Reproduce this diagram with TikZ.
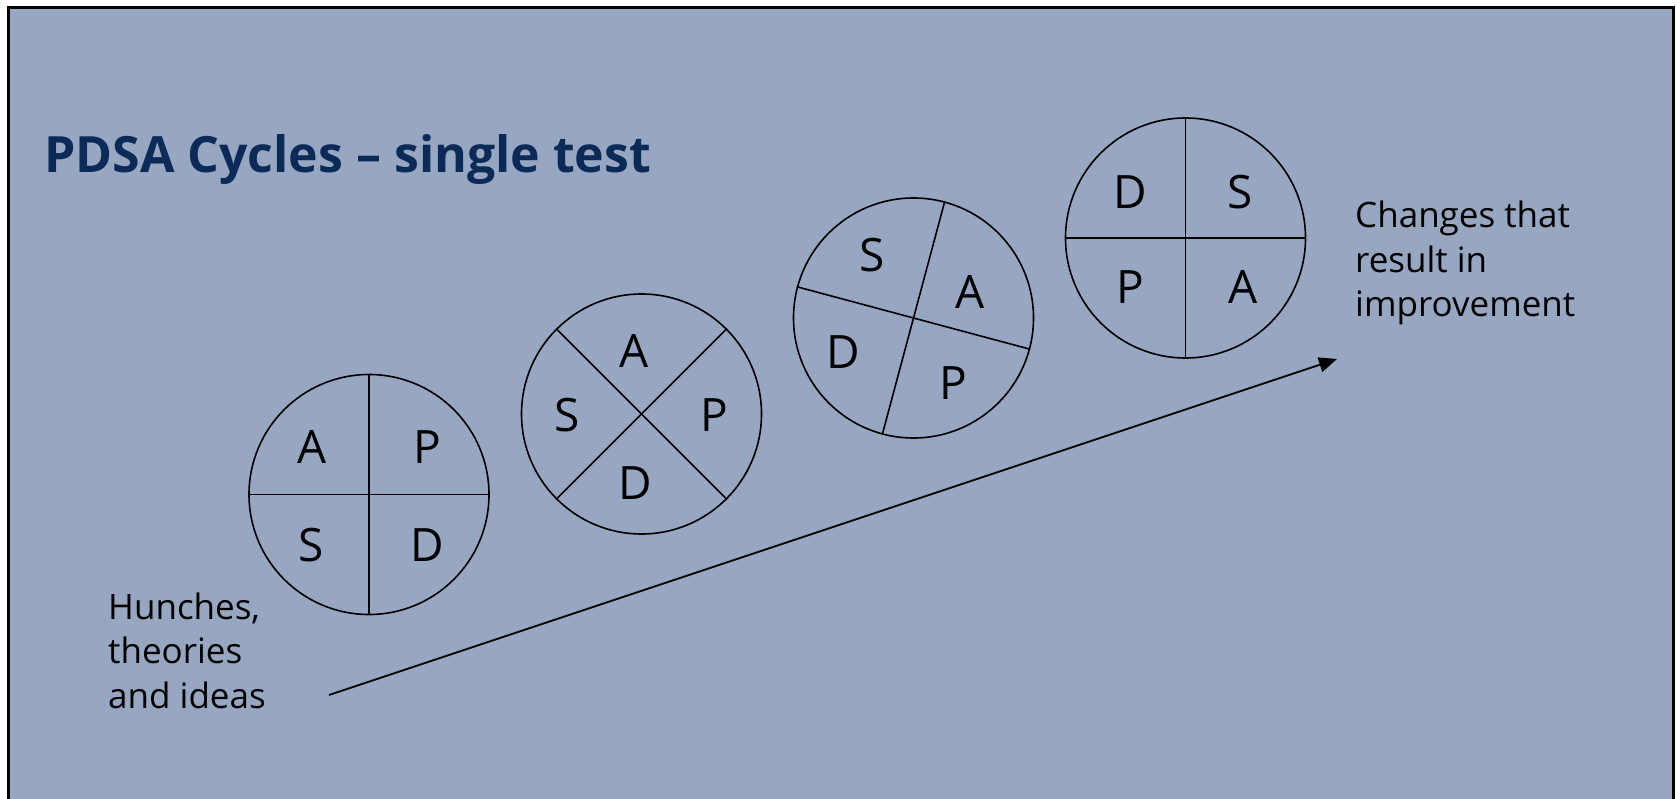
\documentclass[tikz,border=0pt]{standalone}
\usepackage{fontspec}
\setmainfont{Open Sans}
\usetikzlibrary{arrows.meta}
\definecolor{panel}{HTML}{97A6C1}
\definecolor{titlenavy}{HTML}{0B2A58}
\begin{document}
\begin{tikzpicture}[x=1pt,y=-1pt,
  cycle/.style={draw=black,line width=1.6pt,circle,minimum size=240pt,inner sep=0pt},
  divider/.style={draw=black,line width=1.6pt},
  letter/.style={inner sep=0pt,font=\fontsize{46}{50}\selectfont},
  caption/.style={inner sep=0pt,align=left,font=\fontsize{35}{44.5}\selectfont},
  progress/.style={draw=black,line width=1.8pt,-{Triangle[length=18pt,width=15pt]}}]
  \useasboundingbox (0,0) rectangle (1676,799);
  % panel with its frame
  \draw[fill=panel,line width=2.6pt] (8.5,7.5) rectangle (1673.5,830);
  % title
  \node[inner sep=0pt,anchor=base west,text=titlenavy,font=\fontsize{50}{56}\selectfont\bfseries] (title) at (44,173) {PDSA Cycles – single test};
  % cycle 1
  \node[cycle] (c1) at (369,494.5) {};
  \draw[divider] (c1.north) -- (c1.south);
  \draw[divider] (c1.west) -- (c1.east);
  \node[letter] (c1a) at (312,447) {A};
  \node[letter] (c1p) at (427,447) {P};
  \node[letter] (c1s) at (311,545) {S};
  \node[letter] (c1d) at (427,545) {D};
  % cycle 2
  \node[cycle] (c2) at (641.5,414) {};
  \draw[divider] (c2.45) -- (c2.225);
  \draw[divider] (c2.135) -- (c2.315);
  \node[letter] (c2a) at (634,351) {A};
  \node[letter] (c2s) at (567.5,415) {S};
  \node[letter] (c2p) at (714,415) {P};
  \node[letter] (c2d) at (635,483) {D};
  % cycle 3
  \node[cycle] (c3) at (913.5,318) {};
  \draw[divider] (c3.75) -- (c3.255);
  \draw[divider] (c3.165) -- (c3.-15);
  \node[letter] (c3s) at (872,255) {S};
  \node[letter] (c3a) at (970,292) {A};
  \node[letter] (c3d) at (843,352) {D};
  \node[letter] (c3p) at (953,383) {P};
  % cycle 4
  \node[cycle] (c4) at (1185.5,238) {};
  \draw[divider] (c4.north) -- (c4.south);
  \draw[divider] (c4.west) -- (c4.east);
  \node[letter] (c4d) at (1130,192) {D};
  \node[letter] (c4s) at (1240,192) {S};
  \node[letter] (c4p) at (1130,287) {P};
  \node[letter] (c4a) at (1243,287) {A};
  % captions (base anchor sits on the last line)
  \node[caption,anchor=base west] (start) at (108,708) {Hunches,\\theories\\and ideas};
  \node[caption,anchor=base west] (goal) at (1355,317) {Changes that\\result in\\improvement};
  % progress arrow
  \coordinate (from) at (329,695);
  \coordinate (to) at (1337,359);
  \draw[progress] (from) -- (to);
\end{tikzpicture}
\end{document}
